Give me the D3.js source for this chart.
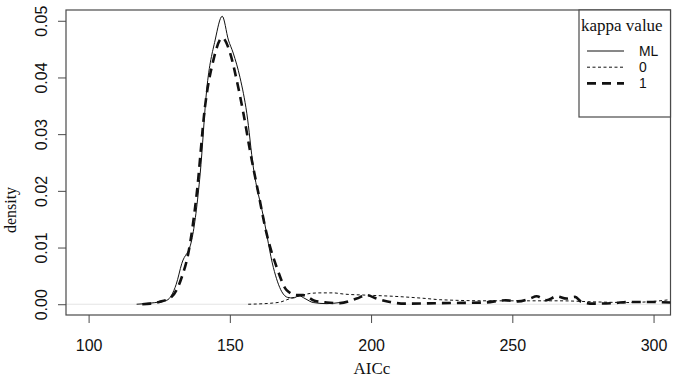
<!DOCTYPE html>
<html>
<head>
<meta charset="utf-8">
<script src="https://cdn.jsdelivr.net/npm/d3@7"></script>
<style>
    body { margin: 0; background: #fff; }
    svg { display: block; }
</style>
</head>
<body>
<svg id="density-chart" width="675" height="379"></svg>
<script>
// AICc values and densities
const mlX = [117, 122, 127.7, 131, 133, 136.5, 139.5, 141.8, 144.8, 147.3, 149.5, 151.2, 153.6, 156, 158.3, 161.9, 165.4, 168.4, 170.5, 172.5, 174.5, 176.6, 179.5, 184.3, 189];
const mlY = [0, 0.0002, 0.0007, 0.0035, 0.0072, 0.0113, 0.023, 0.0378, 0.0466, 0.0508, 0.0466, 0.0443, 0.040, 0.0337, 0.0242, 0.0154, 0.0065, 0.0022, 0.0012, 0.0011, 0.0015, 0.001, 0.0003, 0.0001, 0.0003];

const k0X = [156.5, 165, 168, 171.3, 175, 178.4, 181.9, 186.6, 190.2, 198.4, 207.9, 219.7, 224.3, 242, 256, 266.8, 280, 290.4, 300, 305.7];
const k0Y = [0, 0.0002, 0.0004, 0.001, 0.0015, 0.0019, 0.002, 0.002, 0.0018, 0.0016, 0.0014, 0.001, 0.0008, 0.0006, 0.0006, 0.0006, 0.0004, 0.0003, 0.0005, 0.0008];

const k1X = [119, 121.8, 125, 129.4, 133, 135.3, 138.3, 141.2, 144.2, 147.3, 150.1, 152.4, 154.8, 157.1, 160.1, 163, 166.6, 170.1, 173.7, 176, 180, 184.3, 189, 194.9, 198.4, 202, 206.7, 212, 225, 240, 247.7, 252, 256.2, 258.6, 262.1, 265.7, 269.2, 272.2, 274.5, 278.6, 285.7, 291.6, 297.5, 306];
const k1Y = [0, 0.0001, 0.0004, 0.0013, 0.0048, 0.009, 0.0196, 0.0348, 0.0431, 0.047, 0.0443, 0.0396, 0.0337, 0.0272, 0.0196, 0.0125, 0.0065, 0.0025, 0.0016, 0.0016, 0.0006, 0.0003, 0.0002, 0.001, 0.0016, 0.001, 0.0004, 0.0001, 0.0002, 0.0003, 0.0007, 0.0005, 0.001, 0.0014, 0.0007, 0.0014, 0.001, 0.0013, 0.0004, 0.0001, 0.0002, 0.0004, 0.0004, 0.0003];

const xTicks = [100, 150, 200, 250, 300];
const yTicks = [0, 0.01, 0.02, 0.03, 0.04, 0.05];
const legendLabels = ["ML", "0", "1"];

const plotLeft = 66, plotRight = 670.5, plotTop = 10, plotBottom = 315;
const axisColor = "#4a4a4a";

const svg = d3.select("#density-chart");

const xScale = d3.scaleLinear()
    .domain([92, 306])
    .range([plotLeft, plotRight]);

const yScale = d3.scaleLinear()
    .domain([-0.0019, 0.0519])
    .range([plotBottom, plotTop]);

// clip the curves to the plot region
svg.append("clipPath")
    .attr("id", "plot-clip")
    .append("rect")
    .attr("x", plotLeft).attr("y", plotTop)
    .attr("width", plotRight - plotLeft).attr("height", plotBottom - plotTop);

// faint zero line
svg.append("line")
    .attr("x1", plotLeft).attr("x2", plotRight)
    .attr("y1", yScale(0)).attr("y2", yScale(0))
    .attr("stroke", "#e4e4e4")
    .attr("stroke-width", 1);

// x-axis
const xAxis = svg.append("g")
    .attr("transform", `translate(0, ${plotBottom})`)
    .call(d3.axisBottom(xScale).tickValues(xTicks).tickSize(8).tickPadding(17).tickFormat(d3.format("d")));
xAxis.select(".domain").remove();
xAxis.selectAll("line").attr("stroke", axisColor);
xAxis.selectAll("text")
    .attr("fill", "#111")
    .style("font-family", "'Liberation Sans', Arial, sans-serif")
    .style("font-size", "16px");

// y-axis, labels rotated like R's default
const yAxis = svg.append("g")
    .attr("transform", `translate(${plotLeft}, 0)`)
    .call(d3.axisLeft(yScale).tickValues(yTicks).tickSize(8).tickFormat(d3.format(".2f")));
yAxis.select(".domain").remove();
yAxis.selectAll("line").attr("stroke", axisColor);
yAxis.selectAll("text")
    .attr("x", null).attr("dy", null)
    .attr("transform", "translate(-19, 0) rotate(-90)")
    .attr("text-anchor", "middle")
    .attr("fill", "#111")
    .style("font-family", "'Liberation Sans', Arial, sans-serif")
    .style("font-size", "16px");

// plot box
svg.append("rect")
    .attr("x", plotLeft).attr("y", plotTop)
    .attr("width", plotRight - plotLeft).attr("height", plotBottom - plotTop)
    .attr("fill", "none")
    .attr("stroke", axisColor)
    .attr("stroke-width", 1.2);

// axis titles
svg.append("text")
    .attr("x", 372).attr("y", 374)
    .attr("text-anchor", "middle")
    .attr("fill", "#111")
    .style("font-family", "'Liberation Serif', 'Times New Roman', serif")
    .style("font-size", "17px")
    .text("AICc");

svg.append("text")
    .attr("transform", "translate(16, 210) rotate(-90)")
    .attr("text-anchor", "middle")
    .attr("fill", "#111")
    .style("font-family", "'Liberation Serif', 'Times New Roman', serif")
    .style("font-size", "16px")
    .text("density");

// density curves
const series = [
    { label: "ML", xs: mlX, ys: mlY, width: 1, dash: null },
    { label: "0", xs: k0X, ys: k0Y, width: 1, dash: "3,2.5" },
    { label: "1", xs: k1X, ys: k1Y, width: 2.6, dash: "9,6" }
];

const line = d3.line()
    .x(function (d) { return xScale(d[0]); })
    .y(function (d) { return yScale(d[1]); })
    .curve(d3.curveMonotoneX);

svg.append("g")
    .attr("clip-path", "url(#plot-clip)")
    .selectAll("path")
    .data(series)
    .join("path")
    .attr("d", function (s) { return line(s.xs.map(function (x, i) { return [x, s.ys[i]]; })); })
    .attr("fill", "none")
    .attr("stroke", "#111")
    .attr("stroke-width", function (s) { return s.width; })
    .attr("stroke-dasharray", function (s) { return s.dash; });

// legend
const legend = svg.append("g");
legend.append("rect")
    .attr("x", 579).attr("y", plotTop)
    .attr("width", plotRight - 579).attr("height", 107)
    .attr("fill", "#fff")
    .attr("stroke", axisColor)
    .attr("stroke-width", 1.2);

legend.append("text")
    .attr("x", 581).attr("y", 31)
    .attr("fill", "#111")
    .style("font-family", "'Liberation Serif', 'Times New Roman', serif")
    .style("font-size", "17px")
    .text("kappa value");

const rows = legend.selectAll(".row")
    .data(series)
    .join("g")
    .attr("class", "row")
    .attr("transform", function (d, i) { return `translate(0, ${51 + i * 16.2})`; });

rows.append("line")
    .attr("x1", 587).attr("x2", 624)
    .attr("stroke", "#111")
    .attr("stroke-width", function (s) { return s.width; })
    .attr("stroke-dasharray", function (s) { return s.dash; });

rows.append("text")
    .attr("x", 639).attr("y", 5)
    .attr("fill", "#111")
    .style("font-family", "'Liberation Sans', Arial, sans-serif")
    .style("font-size", "13.9px")
    .text(function (s, i) { return legendLabels[i]; });
</script>
</body>
</html>
